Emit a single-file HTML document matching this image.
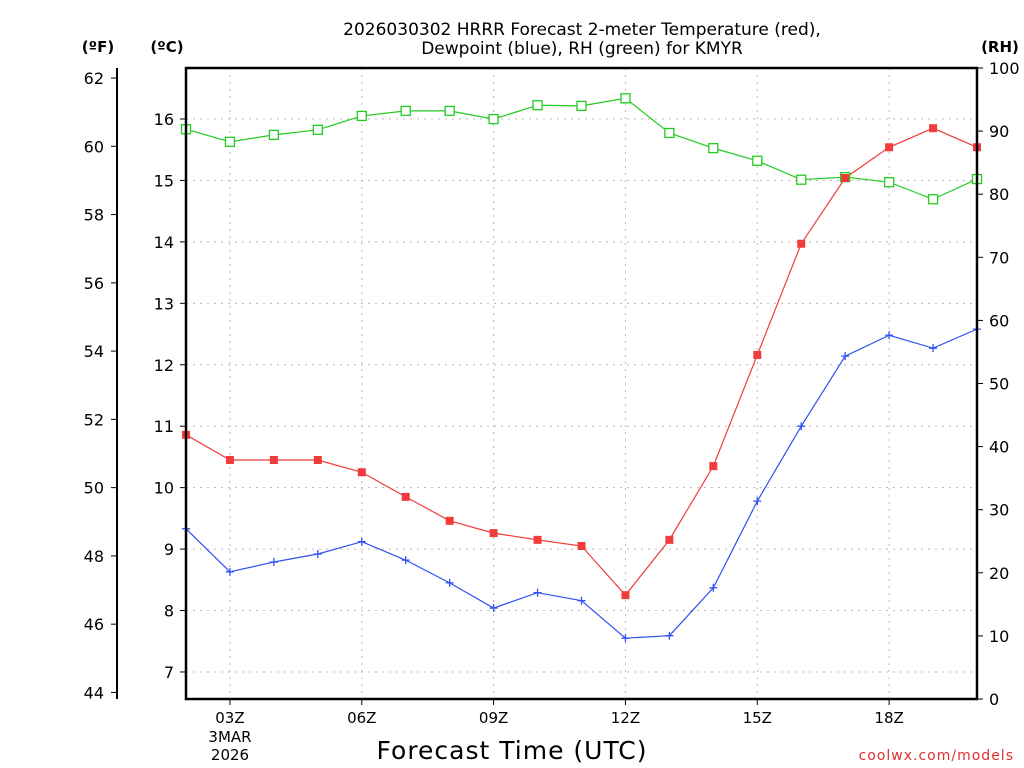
<!DOCTYPE html>
<html><head><meta charset="utf-8"><style>
body{margin:0;background:#fff;}
svg{display:block;font-family:"DejaVu Sans","Liberation Sans",sans-serif;}
</style></head><body>
<svg id="chart" width="1024" height="768">
<g id="grid"></g>
<g id="series"></g>
<g id="axes"></g>
<text x="582" y="35" text-anchor="middle" font-size="17">2026030302 HRRR Forecast 2-meter Temperature (red),</text>
<text x="582" y="54" text-anchor="middle" font-size="17">Dewpoint (blue), RH (green) for KMYR</text>
<text x="98" y="52" text-anchor="middle" font-size="15" font-weight="bold">(ºF)</text>
<text x="167" y="52" text-anchor="middle" font-size="15" font-weight="bold">(ºC)</text>
<text x="1000" y="52" text-anchor="middle" font-size="15" font-weight="bold">(RH)</text>
<text x="230" y="742" text-anchor="middle" font-size="15">3MAR</text>
<text x="230" y="760" text-anchor="middle" font-size="15">2026</text>
<text x="512" y="759" text-anchor="middle" font-size="25" letter-spacing="1">Forecast Time (UTC)</text>
<text x="1014" y="760" text-anchor="end" font-size="14" fill="#e03030" letter-spacing="1">coolwx.com/models</text>
</svg>
<script>
const hours=[2,3,4,5,6,7,8,9,10,11,12,13,14,15,16,17,18,19,20];
const tempC=[10.86,10.45,10.45,10.45,10.25,9.85,9.46,9.26,9.15,9.05,8.25,9.15,10.35,12.16,13.97,15.04,15.54,15.85,15.54];
const dewC=[9.33,8.63,8.79,8.92,9.12,8.82,8.45,8.04,8.29,8.16,7.55,7.59,8.37,9.78,11.0,12.14,12.48,12.27,12.58];
const rh=[90.3,88.3,89.4,90.2,92.4,93.2,93.2,91.9,94.1,94.0,95.2,89.7,87.3,85.3,82.3,82.7,81.9,79.2,82.4];
const xTicks=[3,6,9,12,15,18];
const xTickLabels=["03Z","06Z","09Z","12Z","15Z","18Z"];
const cTicks=[7,8,9,10,11,12,13,14,15,16];
const fTicks=[44,46,48,50,52,54,56,58,60,62];
const rhTicks=[0,10,20,30,40,50,60,70,80,90,100];

const L=186,R=977,T=68,B=699;
const x=h=>L+(h-2)*(R-L)/18;
const yC=c=>119+(16-c)*61.44;
const yF=f=>yC((f-32)/1.8);
const yRH=v=>B-v*(B-T)/100;
const NS="http://www.w3.org/2000/svg";
function mk(tag,attrs,parent,txt){const e=document.createElementNS(NS,tag);for(const k in attrs)e.setAttribute(k,attrs[k]);if(txt!==undefined)e.textContent=txt;parent.appendChild(e);return e;}
const grid=document.getElementById('grid'),axes=document.getElementById('axes'),ser=document.getElementById('series');
xTicks.forEach((h,i)=>{
  const g=mk('line',{x1:x(h),x2:x(h),y1:T,y2:B,stroke:'#b8b8b8','stroke-dasharray':'2,5'},grid);
  
  
  const t=mk('line',{x1:x(h),x2:x(h),y1:B,y2:B+6,stroke:'#000'},axes);
  
  
  const l=mk('text',{x:x(h),y:B+24,'text-anchor':'middle','font-size':15},axes,xTickLabels[i]);
  
  
});
cTicks.forEach(c=>{
  const g=mk('line',{x1:L,x2:R,y1:yC(c),y2:yC(c),stroke:'#b8b8b8','stroke-dasharray':'2,5'},grid);
  
  
  const t=mk('line',{x1:L-6,x2:L,y1:yC(c),y2:yC(c),stroke:'#000'},axes);
  
  
  const l=mk('text',{x:L-12,y:yC(c)+6,'text-anchor':'end','font-size':16},axes,String(c));
  
  
});
fTicks.forEach(f=>{
  const t=mk('line',{x1:111,x2:117,y1:yF(f),y2:yF(f),stroke:'#000'},axes);
  
  
  const l=mk('text',{x:104,y:yF(f)+6,'text-anchor':'end','font-size':16},axes,String(f));
  
  
});
rhTicks.forEach(v=>{
  const t=mk('line',{x1:R,x2:R+6,y1:yRH(v),y2:yRH(v),stroke:'#000'},axes);
  
  
  const l=mk('text',{x:R+12,y:yRH(v)+6,'text-anchor':'start','font-size':16},axes,String(v));
  
  
});
const fa=mk('line',{x1:117,x2:117,y1:68,y2:699,stroke:'#000','stroke-width':2},axes);


const fr=mk('rect',{x:L,y:T,width:R-L,height:B-T,fill:'none',stroke:'#000','stroke-width':2.5},axes);



function line(vals,yf,color,name){
  const p=mk('polyline',{points:vals.map((v,i)=>x(hours[i])+','+yf(v)).join(' '),fill:'none',stroke:color,'stroke-width':1.2},ser);
  
  
}
line(rh,yRH,'#22cc22','rh');
line(tempC,yC,'#f03c3c','temperature');
line(dewC,yC,'#3050f0','dewpoint');
rh.forEach((v,i)=>{
  const m=mk('rect',{x:x(hours[i])-4.5,y:yRH(v)-4.5,width:9,height:9,fill:'#fff',stroke:'#22cc22','stroke-width':1.3},ser);
  
  
});
tempC.forEach((v,i)=>{
  const m=mk('rect',{x:x(hours[i])-4,y:yC(v)-4,width:8,height:8,fill:'#f03c3c'},ser);
  
  
});
dewC.forEach((v,i)=>{
  const cx=x(hours[i]),cy=yC(v);
  const m=mk('path',{d:`M${cx-4},${cy}H${cx+4}M${cx},${cy-4}V${cy+4}`,stroke:'#3050f0','stroke-width':1.3},ser);
  
  
});
</script>
</body></html>
